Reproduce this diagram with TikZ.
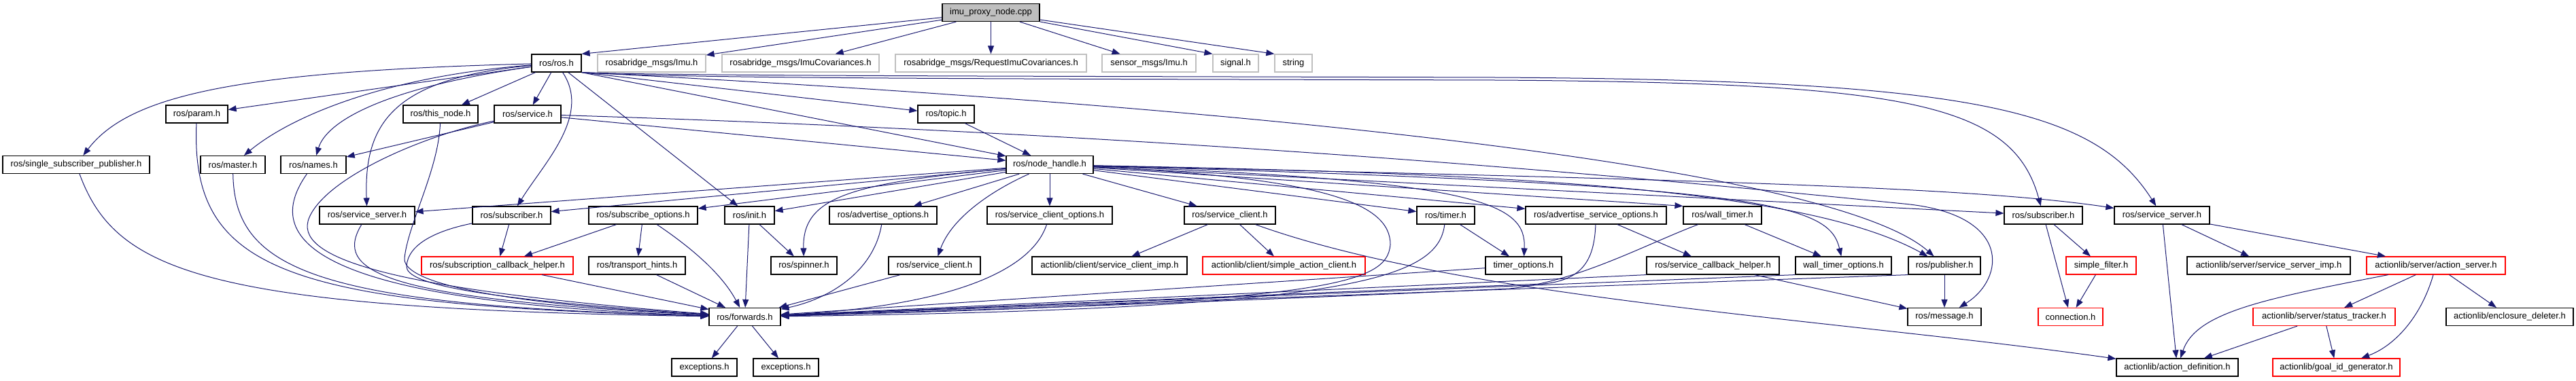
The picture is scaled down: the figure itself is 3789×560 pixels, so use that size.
\documentclass[tikz,border=0pt]{standalone}
\usepackage{fontspec}
\setmainfont{Liberation Sans}
\usetikzlibrary{arrows.meta}
\definecolor{edgeblue}{HTML}{191970}
\definecolor{extgray}{HTML}{BFBFBF}

\begin{document}
\begin{tikzpicture}[x=1pt,y=-1pt,
  hdr/.style={draw=black,line width=1.2pt,rectangle,minimum height=26pt,inner xsep=2pt,inner ysep=0pt,font=\fontsize{13}{15}\selectfont},
  extfile/.style={hdr,draw=extgray},
  trunc/.style={hdr,draw=red},
  rootfile/.style={hdr,fill=extgray},
  dep/.style={draw=edgeblue,line width=1pt,-{Triangle[length=12pt,width=9pt]}}]
  \useasboundingbox (0,0) rectangle (3789,560);

  \node[rootfile,minimum width=143pt] (vimu) at (1457.5,18.5) {imu\_proxy\_node.cpp};
  \node[hdr,minimum width=73pt] (vros) at (818.5,93) {ros/ros.h};
  \node[extfile,minimum width=159pt] (vrimu) at (958.5,93) {rosabridge\_msgs/Imu.h};
  \node[extfile,minimum width=231pt] (vrcov) at (1177.5,93) {rosabridge\_msgs/ImuCovariances.h};
  \node[extfile,minimum width=281pt] (vrreq) at (1457.5,93) {rosabridge\_msgs/RequestImuCovariances.h};
  \node[extfile,minimum width=138pt] (vsimu) at (1690,93) {sensor\_msgs/Imu.h};
  \node[extfile,minimum width=67pt] (vsignal) at (1817.5,93) {signal.h};
  \node[extfile,minimum width=55pt] (vstring) at (1902.5,93) {string};
  \node[hdr,minimum width=91pt] (vparam) at (289.5,168) {ros/param.h};
  \node[hdr,minimum width=110pt] (vthisnode) at (648,168) {ros/this\_node.h};
  \node[hdr,minimum width=98pt] (vservice) at (776,168) {ros/service.h};
  \node[hdr,minimum width=83pt] (vtopic) at (1391.5,168) {ros/topic.h};
  \node[hdr,minimum width=216pt] (vssp) at (112,242.5) {ros/single\_subscriber\_publisher.h};
  \node[hdr,minimum width=95pt] (vmaster) at (342.5,242.5) {ros/master.h};
  \node[hdr,minimum width=96pt] (vnames) at (461,242.5) {ros/names.h};
  \node[hdr,minimum width=128pt] (vnh) at (1544,242.5) {ros/node\_handle.h};
  \node[hdr,minimum width=140pt] (vssrvL) at (540,317) {ros/service\_server.h};
  \node[hdr,minimum width=115pt] (vsubL) at (752.5,317) {ros/subscriber.h};
  \node[hdr,minimum width=160pt] (vsubopts) at (946,317) {ros/subscribe\_options.h};
  \node[hdr,minimum width=73pt] (vinit) at (1102.5,317) {ros/init.h};
  \node[hdr,minimum width=158pt] (vadvopts) at (1299,317) {ros/advertise\_options.h};
  \node[hdr,minimum width=184pt] (vscopts) at (1544,317) {ros/service\_client\_options.h};
  \node[hdr,minimum width=134pt] (vsclU) at (1809,317) {ros/service\_client.h};
  \node[hdr,minimum width=85pt] (vtimer) at (2126.5,317) {ros/timer.h};
  \node[hdr,minimum width=207pt] (vadvsrv) at (2347.5,317) {ros/advertise\_service\_options.h};
  \node[hdr,minimum width=115pt] (vwtimer) at (2533.5,317) {ros/wall\_timer.h};
  \node[hdr,minimum width=115pt] (vsubR) at (3005.5,317) {ros/subscriber.h};
  \node[hdr,minimum width=140pt] (vssrvR) at (3180,317) {ros/service\_server.h};
  \node[trunc,minimum width=223pt] (vsch) at (731.5,391) {ros/subscription\_callback\_helper.h};
  \node[hdr,minimum width=142pt] (vtransport) at (937,391) {ros/transport\_hints.h};
  \node[hdr,minimum width=97pt] (vspinner) at (1182.5,391) {ros/spinner.h};
  \node[hdr,minimum width=135pt] (vsclL) at (1374.5,391) {ros/service\_client.h};
  \node[hdr,minimum width=228pt] (vscimp) at (1632,391) {actionlib/client/service\_client\_imp.h};
  \node[trunc,minimum width=239pt] (vsac) at (1888.5,391) {actionlib/client/simple\_action\_client.h};
  \node[hdr,minimum width=112pt] (vtimeropts) at (2241,391) {timer\_options.h};
  \node[hdr,minimum width=195pt] (vscbh) at (2519.5,391) {ros/service\_callback\_helper.h};
  \node[hdr,minimum width=141pt] (vwtopts) at (2711.5,391) {wall\_timer\_options.h};
  \node[hdr,minimum width=106pt] (vpub) at (2860,391) {ros/publisher.h};
  \node[trunc,minimum width=103pt] (vsfilter) at (3090.5,391) {simple\_filter.h};
  \node[hdr,minimum width=240pt] (vssimp) at (3337,391) {actionlib/server/service\_server\_imp.h};
  \node[trunc,minimum width=204pt] (vaserver) at (3583,391) {actionlib/server/action\_server.h};
  \node[hdr,minimum width=105pt] (vfwd) at (1095.5,466.5) {ros/forwards.h};
  \node[hdr,minimum width=108pt] (vmessage) at (2860,466.5) {ros/message.h};
  \node[trunc,minimum width=95pt] (vconn) at (3045.5,466.5) {connection.h};
  \node[trunc,minimum width=209pt] (vstracker) at (3418.5,466.5) {actionlib/server/status\_tracker.h};
  \node[hdr,minimum width=187pt] (vencl) at (3691.5,466.5) {actionlib/enclosure\_deleter.h};
  \node[hdr,minimum width=96pt] (vexca) at (1036,541) {exceptions.h};
  \node[hdr,minimum width=96pt] (vexcb) at (1156,541) {exceptions.h};
  \node[hdr,minimum width=179pt] (vadef) at (3202.5,541) {actionlib/action\_definition.h};
  \node[trunc,minimum width=187pt] (vgoalid) at (3436.5,541) {actionlib/goal\_id\_generator.h};

  \draw[dep] (vimu) -- (vros.north east);
  \draw[dep] (vimu) -- (vrimu);
  \draw[dep] (vimu) -- (vrcov);
  \draw[dep] (vimu) -- (vrreq);
  \draw[dep] (vimu) -- (vsimu);
  \draw[dep] (vimu) -- (vsignal.north west);
  \draw[dep] (vimu) -- (vstring.north west);

  \draw[dep] (vros) -- (vparam);
  \draw[dep] (vros) .. controls (350,105) and (190,140) .. (vssp);
  \draw[dep] (vros) .. controls (570,112) and (430,170) .. (vmaster);
  \draw[dep] (vros) .. controls (560,130) and (480,180) .. (vnames);
  \draw[dep] (vros) -- (vthisnode);
  \draw[dep] (vros) -- (vservice);
  \draw[dep] (vros.south east) -- (vtopic);
  \draw[dep] (vros.south east) -- (vnh);
  \draw[dep] (vros) .. controls (580,115) and (535,180) .. (vssrvL);
  \draw[dep] (vros) .. controls (870,170) and (800,240) .. (vsubL);
  \draw[dep] (vros) -- (vinit);
  \draw[dep] (vros.south east) .. controls (1900,160) and (2700,250) .. (vpub);
  \draw[dep] (vros.south east) .. controls (1000,116) and (1500,116) .. (2200,118) .. controls (2800,122) and (2960,150) .. (vsubR);
  \draw[dep] (vros.south east) .. controls (1000,112) and (1500,112) .. (2200,114) .. controls (2900,118) and (3080,160) .. (vssrvR);

  \draw[dep] (vservice) -- (vnames);
  \draw[dep] (vservice) -- (vnh);
  \draw[dep] (vservice) .. controls (620,200) and (480,262) .. (455,320) .. controls (430,378) and (560,425) .. (vfwd);
  \draw[dep] (vservice) .. controls (1800,200) and (2500,270) .. (2800,300) .. controls (2960,315) and (2950,410) .. (vmessage);
  \draw[dep] (vtopic) -- (vnh);

  \draw[dep] (vssp) .. controls (170,400) and (300,455) .. (vfwd);
  \draw[dep] (vparam) .. controls (280,400) and (420,450) .. (vfwd);
  \draw[dep] (vmaster) .. controls (345,400) and (470,450) .. (vfwd);
  \draw[dep] (vnames) .. controls (385,350) and (450,445) .. (vfwd);
  \draw[dep] (vssrvL) .. controls (490,400) and (560,440) .. (vfwd);
  \draw[dep] (vthisnode) .. controls (645,250) and (600,330) .. (595,380) .. controls (592,412) and (700,445) .. (vfwd);
  \draw[dep] (vsubL) .. controls (640,340) and (600,360) .. (598,392) .. controls (597,418) and (700,440) .. (vfwd);
  \draw[dep] (vsubL) -- (vsch);
  \draw[dep] (vsubopts) -- (vsch);
  \draw[dep] (vsubopts) -- (vtransport);
  \draw[dep] (vsubopts) .. controls (1010,360) and (1060,400) .. (vfwd);
  \draw[dep] (vsch) -- (vfwd);
  \draw[dep] (vtransport) -- (vfwd);
  \draw[dep] (vinit) -- (vfwd);
  \draw[dep] (vinit) -- (vspinner);
  \draw[dep] (vfwd) -- (vexca);
  \draw[dep] (vfwd) -- (vexcb);

  \draw[dep] (vnh) -- (vssrvL);
  \draw[dep] (vnh) -- (vsubL);
  \draw[dep] (vnh) -- (vsubopts);
  \draw[dep] (vnh) -- (vinit);
  \draw[dep] (vnh) .. controls (1250,270) and (1180,290) .. (vspinner);
  \draw[dep] (vnh) -- (vadvopts);
  \draw[dep] (vnh) -- (vscopts);
  \draw[dep] (vnh) .. controls (1460,280) and (1400,320) .. (vsclL);
  \draw[dep] (vnh) -- (vsclU);
  \draw[dep] (vnh) -- (vtimer);
  \draw[dep] (vnh) -- (vadvsrv);
  \draw[dep] (vnh) -- (vwtimer.north west);
  \draw[dep] (vnh) .. controls (2180,265) and (2245,300) .. (vtimeropts);
  \draw[dep] (vnh) .. controls (2600,272) and (2690,300) .. (vwtopts);
  \draw[dep] (vnh) .. controls (2200,255) and (2650,275) .. (vpub);
  \draw[dep] (vnh) -- (vsubR);
  \draw[dep] (vnh) .. controls (2500,265) and (2900,275) .. (vssrvR);
  \draw[dep] (vnh) .. controls (1950,262) and (2045,300) .. (2045,360) .. controls (2040,420) and (1950,445) .. (vfwd);

  \draw[dep] (vadvopts) .. controls (1285,400) and (1220,440) .. (vfwd);
  \draw[dep] (vscopts) .. controls (1515,405) and (1380,452) .. (vfwd);
  \draw[dep] (vsclL) -- (vfwd);
  \draw[dep] (vsclU) -- (vscimp);
  \draw[dep] (vsclU) -- (vsac);
  \draw[dep] (vsclU) .. controls (2150,440) and (2700,470) .. (vadef);
  \draw[dep] (vtimer) -- (vtimeropts);
  \draw[dep] (vtimer) .. controls (2115,410) and (1990,455) .. (vfwd);
  \draw[dep] (vtimeropts) -- (vfwd);
  \draw[dep] (vadvsrv) -- (vscbh);
  \draw[dep] (vadvsrv) .. controls (2345,380) and (2330,412) .. (2270,418) .. controls (2000,428) and (1500,450) .. (vfwd);
  \draw[dep] (vwtimer) -- (vwtopts);
  \draw[dep] (vwtimer) .. controls (2420,360) and (2320,415) .. (2220,425) .. controls (1900,440) and (1500,455) .. (vfwd);
  \draw[dep] (vscbh.south west) -- (vfwd);
  \draw[dep] (vscbh) -- (vmessage);
  \draw[dep] (vwtopts.south west) -- (vfwd);
  \draw[dep] (vpub.south west) -- (vfwd);
  \draw[dep] (vpub) -- (vmessage);

  \draw[dep] (vsubR) -- (vsfilter);
  \draw[dep] (vsubR) -- (vconn);
  \draw[dep] (vsfilter) -- (vconn);
  \draw[dep] (vssrvR) -- (vadef);
  \draw[dep] (vssrvR) -- (vssimp);
  \draw[dep] (vssrvR) -- (vaserver);
  \draw[dep] (vaserver) .. controls (3330,440) and (3230,460) .. (vadef);
  \draw[dep] (vaserver) -- (vstracker);
  \draw[dep] (vaserver) .. controls (3560,470) and (3520,510) .. (vgoalid);
  \draw[dep] (vaserver) -- (vencl);
  \draw[dep] (vstracker) -- (vadef);
  \draw[dep] (vstracker) -- (vgoalid);
\end{tikzpicture}
\end{document}
